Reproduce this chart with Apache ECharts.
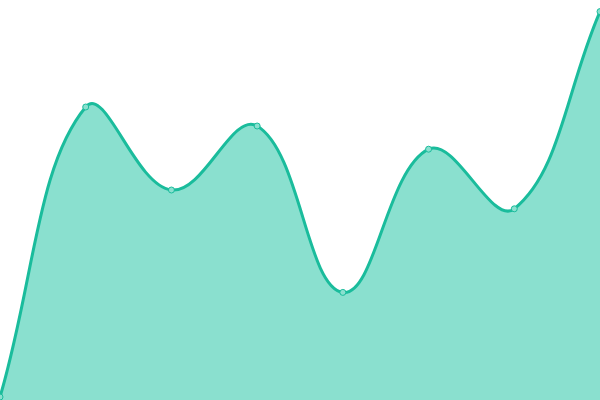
<!DOCTYPE html>
<html>
<head>
<meta charset="utf-8">
<style>
    html, body {margin: 0; padding: 0; background: #fff;}
    #chart {width: 600px; height: 400px;}
</style>
<script src="https://cdn.jsdelivr.net/npm/echarts@6/dist/echarts.min.js"></script>
</head>
<body>
<div id="chart"></div>
<script>
    var categories = ['1', '2', '3', '4', '5', '6', '7', '8'];
    var values = [0.75, 73.25, 52.5, 68.5, 26.9, 62.7, 47.8, 97.1];

    var lineColor = '#1abc9c';
    var fillColor = '#8ae0cf';
    var tension = 0.4;

    // cardinal spline control points (same idea as chart.js tension curves)
    function controlPoints(pts, w, h) {
        var cps = [];
        for (var i = 0; i < pts.length; i++) {
            var cur = pts[i];
            var prev = pts[i - 1] || cur;
            var next = pts[i + 1] || cur;
            var d01 = Math.hypot(cur[0] - prev[0], cur[1] - prev[1]);
            var d12 = Math.hypot(next[0] - cur[0], next[1] - cur[1]);
            var s01 = d01 / (d01 + d12) || 0;
            var s12 = d12 / (d01 + d12) || 0;
            var fa = tension * s01, fb = tension * s12;
            var clampX = function (v) { return Math.max(0, Math.min(w, v)); };
            var clampY = function (v) { return Math.max(0, Math.min(h, v)); };
            cps.push({
                prev: [clampX(cur[0] - fa * (next[0] - prev[0])), clampY(cur[1] - fa * (next[1] - prev[1]))],
                next: [clampX(cur[0] + fb * (next[0] - prev[0])), clampY(cur[1] + fb * (next[1] - prev[1]))]
            });
        }
        return cps;
    }

    function renderItem(params, api) {
        var children = [];
        if (params.dataIndex === 0) {
            var pts = values.map(function (v, i) { return api.coord([i, v]); });
            var bottom = api.coord([0, 0])[1];
            var cs = params.coordSys;
            var cps = controlPoints(pts, cs.x + cs.width, cs.y + cs.height);
            var curve = 'M' + pts[0][0] + ',' + pts[0][1];
            for (var i = 1; i < pts.length; i++) {
                curve += ' C' + cps[i - 1].next[0] + ',' + cps[i - 1].next[1] + ' '
                    + cps[i].prev[0] + ',' + cps[i].prev[1] + ' '
                    + pts[i][0] + ',' + pts[i][1];
            }
            var last = pts[pts.length - 1];
            var area = curve + ' L' + last[0] + ',' + bottom + ' L' + pts[0][0] + ',' + bottom + ' Z';
            children.push({
                type: 'path',
                shape: {pathData: area},
                style: {fill: fillColor, stroke: null}
            });
            children.push({
                type: 'path',
                shape: {pathData: curve},
                style: {fill: null, stroke: lineColor, lineWidth: 3}
            });
        }
        var p = api.coord([api.value(0), api.value(1)]);
        children.push({
            type: 'circle',
            shape: {cx: p[0], cy: p[1], r: 3},
            style: {fill: fillColor, stroke: lineColor, lineWidth: 1},
            z2: 10
        });
        return {type: 'group', children: children};
    }

    var chart = echarts.init(document.getElementById('chart'));
    var option = {
        animation: false,
        grid: {left: 0, right: 0, top: 0, bottom: 0},
        xAxis: {
            type: 'category',
            boundaryGap: false,
            data: categories,
            show: false
        },
        yAxis: {
            type: 'value',
            min: 0,
            max: 100,
            show: false
        },
        series: [
            {
                type: 'custom',
                renderItem: renderItem,
                clip: false,
                data: values.map(function (v, i) { return [i, v]; })
            }
        ]
    };
    chart.setOption(option);
</script>
</body>
</html>
